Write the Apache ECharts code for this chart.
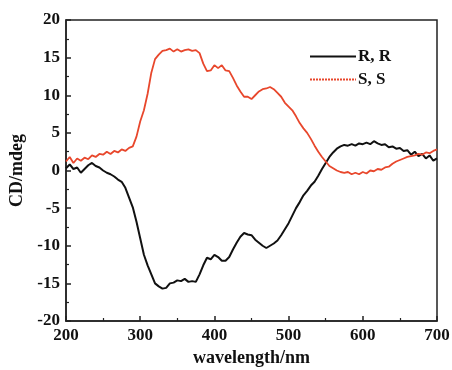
<!DOCTYPE html>
<html><head><meta charset="utf-8">
<script src="https://cdn.jsdelivr.net/npm/echarts@6/dist/echarts.min.js"></script>
<style>html,body{margin:0;padding:0;background:#fff}#c{width:452px;height:370px}</style>
</head><body><div id="c"></div>
<script>
const wavelengths = [];
for (let w = 200; w <= 700; w += 5) wavelengths.push(w);
const seriesNames = ['R, R', 'S, S'];
const rr = [0.3,0.8,0.2,0.4,-0.3,0.2,0.7,1.0,0.6,0.4,0.0,-0.3,-0.5,-0.8,-1.2,-1.5,-2.3,-3.6,-4.9,-6.8,
-9.0,-11.2,-12.6,-13.8,-15.0,-15.4,-15.7,-15.6,-15.0,-14.9,-14.6,-14.7,-14.4,-14.8,-14.7,-14.8,-13.8,-12.6,-11.6,-11.8,
-11.2,-11.5,-12.0,-12.0,-11.5,-10.5,-9.6,-8.8,-8.3,-8.5,-8.6,-9.2,-9.6,-10.0,-10.3,-10.0,-9.7,-9.3,-8.6,-7.8,
-7.0,-6.0,-5.0,-4.2,-3.3,-2.7,-2.0,-1.5,-0.7,0.2,1.0,1.8,2.4,2.9,3.2,3.4,3.3,3.5,3.3,3.6,
3.5,3.7,3.5,3.9,3.6,3.4,3.5,3.1,3.2,2.9,3.0,2.6,2.7,2.1,2.5,1.9,2.2,1.6,2.0,1.3,1.6];
const ss = [1.2,1.8,1.0,1.6,1.3,1.7,1.5,2.0,1.8,2.2,2.1,2.5,2.2,2.6,2.4,2.8,2.6,3.0,3.2,4.5,
6.5,8.0,10.2,13.0,14.8,15.4,15.9,16.0,16.2,15.8,16.1,15.8,16.0,16.1,15.9,16.0,15.6,14.2,13.2,13.3,
14.0,13.6,14.0,13.3,13.2,12.3,11.3,10.5,9.8,9.8,9.5,10.0,10.5,10.8,10.9,11.1,10.8,10.3,9.8,9.0,
8.5,8.0,7.2,6.3,5.6,5.0,4.2,3.3,2.5,1.8,1.2,0.6,0.3,0.0,-0.2,-0.3,-0.2,-0.5,-0.3,-0.5,
-0.2,-0.4,0.0,-0.1,0.2,0.1,0.4,0.5,0.9,1.2,1.4,1.6,1.8,1.9,2.0,2.2,2.1,2.4,2.3,2.6,2.8];

const font = 'Liberation Serif';
const chart = echarts.init(document.getElementById('c'));
chart.setOption({
  animation: false,
  backgroundColor: '#fff',
  grid: {left: 66, right: 15, top: 20, bottom: 49, outerBoundsMode: 'none', containLabel: false,
         show: true, borderColor: '#222', borderWidth: 1.5, backgroundColor: 'transparent'},
  legend: {
    orient: 'vertical', left: 304, top: 43, itemWidth: 46, itemHeight: 12, itemGap: 6,
    itemStyle: {opacity: 0},
    textStyle: {fontFamily: font, fontWeight: 'bold', fontSize: 17, color: '#111', padding: [0,0,0,-3]},
    data: [
      {name: seriesNames[0], itemStyle: {opacity: 0}, lineStyle: {color: '#111', width: 2, type: 'solid'}},
      {name: seriesNames[1], itemStyle: {opacity: 0}, lineStyle: {color: '#e8472c', width: 2, type: [2, 1]}}
    ]
  },
  xAxis: {
    type: 'value', min: 200, max: 700, interval: 100,
    name: 'wavelength/nm', nameLocation: 'middle', nameGap: 27,
    nameTextStyle: {fontFamily: font, fontWeight: 'bold', fontSize: 18, color: '#111'},
    axisLine: {show: true, onZero: false, lineStyle: {color: '#222', width: 1.5}},
    axisTick: {inside: true, length: 5, lineStyle: {color: '#222', width: 1.5}},
    minorTick: {show: true, splitNumber: 2, length: 3, lineStyle: {color: '#222', width: 1.2}},
    axisLabel: {fontFamily: font, fontWeight: 'bold', fontSize: 17, color: '#111', margin: 6},
    splitLine: {show: false}
  },
  yAxis: {
    type: 'value', min: -20, max: 20, interval: 5,
    name: 'CD/mdeg', nameLocation: 'middle', nameGap: 40,
    nameTextStyle: {fontFamily: font, fontWeight: 'bold', fontSize: 18, color: '#111'},
    axisLine: {show: true, onZero: false, lineStyle: {color: '#222', width: 1.5}},
    axisTick: {inside: true, length: 5, lineStyle: {color: '#222', width: 1.5}},
    minorTick: {show: true, splitNumber: 2, length: 3, lineStyle: {color: '#222', width: 1.2}},
    axisLabel: {fontFamily: font, fontWeight: 'bold', fontSize: 17, color: '#111', margin: 6},
    splitLine: {show: false}
  },
  series: [
    {name: seriesNames[0], type: 'line', showSymbol: false, symbol: 'none',
     data: wavelengths.map((w,i)=>[w, rr[i]]),
     lineStyle: {color: '#111', width: 2}, itemStyle: {color: '#111'}},
    {name: seriesNames[1], type: 'line', showSymbol: false, symbol: 'none',
     data: wavelengths.map((w,i)=>[w, ss[i]]),
     lineStyle: {color: '#e8472c', width: 1.8}, itemStyle: {color: '#e8472c'}}
  ]
});
</script></body></html>
